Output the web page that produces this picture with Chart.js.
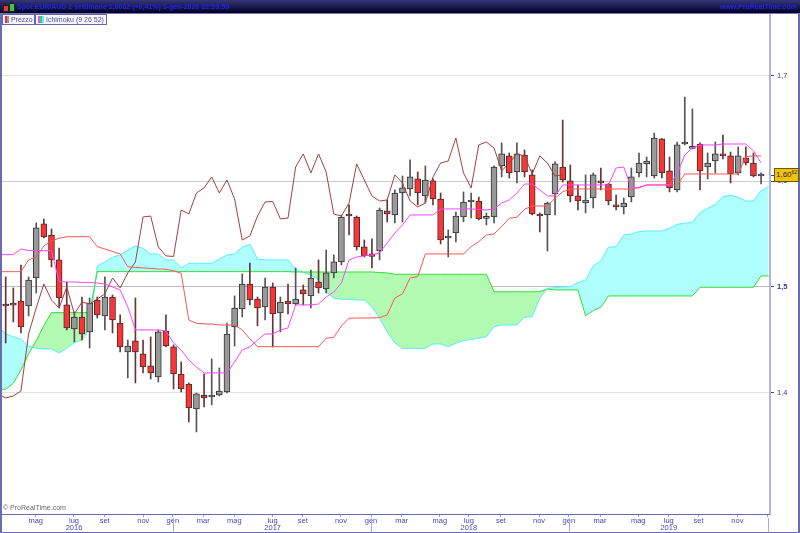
<!DOCTYPE html>
<html><head><meta charset="utf-8">
<script src="https://cdn.jsdelivr.net/npm/chart.js@4.4.1/dist/chart.umd.min.js"></script>
<style>
html,body{margin:0;padding:0;background:#fff;}
#wrap{position:relative;width:800px;height:533px;overflow:hidden;font-family:"Liberation Sans",Arial,sans-serif;}
#c{position:absolute;left:0;top:0;}
#hdr{position:absolute;left:0;top:0;width:800px;height:13px;background:linear-gradient(#36367a,#000022);border-bottom:1px solid #7474bc;}
#htxt{position:absolute;left:17px;top:1px;font-size:7px;font-weight:bold;color:#2424e8;white-space:nowrap;line-height:11px;}
#hurl{position:absolute;right:3px;top:1px;font-size:7px;font-weight:bold;color:#2424e8;white-space:nowrap;line-height:11px;}
.ic{position:absolute;width:4px;border:1px solid #222;}
.icw{position:absolute;width:1px;background:#222;}
.lb{position:absolute;top:14px;height:9px;border:1px solid #6464aa;background:#f6f6fc;font-size:7px;color:#50509a;line-height:9px;white-space:nowrap;overflow:hidden;}
.lb i{display:inline-block;width:2px;height:7px;margin:1px 0 0 0;vertical-align:top;}
#copy{position:absolute;left:3px;top:504px;font-size:7px;color:#666;white-space:nowrap;}
#px{position:absolute;left:774px;top:168px;width:22px;height:12px;background:#f2c400;border:1px solid #6c5600;font-size:8px;color:#1c1c50;line-height:12px;text-align:left;padding-left:1px;white-space:nowrap;}
#px sup{font-size:5px;vertical-align:top;line-height:7px;}
</style></head>
<body>
<div id="wrap">
<canvas id="c" width="800" height="533"></canvas>
<div id="hdr">
  <div class="icw" style="left:5px;top:2px;height:10px;"></div>
  <div class="ic" style="left:3px;top:5px;height:5px;background:#ee3333;"></div>
  <div class="icw" style="left:11px;top:1px;height:11px;"></div>
  <div class="ic" style="left:9px;top:3px;height:7px;background:#33cc33;"></div>
  <span id="htxt">Spot EUR/AUD 2 settimane 1,6062 (+0,41%) 3-gen-2020 22:59:59</span>
  <span id="hurl">www.ProRealTime.com</span>
</div>
<div class="lb" style="left:2px;width:31px;"><i style="background:#ee3333;margin-left:2px"></i><i style="background:#999"></i> Prezzo</div>
<div class="lb" style="left:35px;width:70px;"><i style="background:#ff44ff;margin-left:2px"></i><i style="background:#33dd33"></i><i style="background:#55eeff"></i> Ichimoku (9 26 52)</div>
<div id="copy">© ProRealTime.com</div>
<div id="px">1,60<sup>62</sup></div>
</div>
<script>
// ---- candle data (bi-weekly EUR/AUD), index 0..99 ----
const opens=[1.4839,1.4830,1.4867,1.4820,1.5085,1.5597,1.5492,1.5256,1.4830,1.4602,
1.4716,1.4574,1.4877,1.4725,1.4905,1.4659,1.4384,1.4489,1.4366,1.4252,
1.4148,1.4583,1.4432,1.4176,1.4081,1.3845,1.3977,1.3958,1.3977,1.4006,
1.4621,1.4792,1.5028,1.4886,1.4811,1.5000,1.4754,1.4867,1.4839,1.4972,
1.4915,1.5047,1.4981,1.5133,1.5237,1.5680,1.5663,1.5379,1.5313,1.5341,
1.5720,1.5682,1.5890,1.5928,1.6023,1.5862,1.6004,1.5833,1.5464,1.5511,
1.5663,1.5805,1.5814,1.5649,1.5663,1.6146,1.6241,1.6089,1.6250,1.6061,
1.5691,1.5682,1.5881,1.6136,1.6004,1.5862,1.5795,1.5843,1.6004,1.5975,
1.5767,1.5758,1.5852,1.6080,1.6165,1.6051,1.6402,1.6099,1.5919,1.6354,
1.6312,1.6354,1.6136,1.6193,1.6260,1.6241,1.6080,1.6222,1.6174,1.6051];
const highs=[1.5095,1.4991,1.5208,1.5095,1.5606,1.5644,1.5549,1.5369,1.5047,1.4763,
1.4905,1.4896,1.4905,1.5095,1.4924,1.4735,1.4498,1.4896,1.4498,1.4527,
1.4593,1.4735,1.4451,1.4290,1.4091,1.3996,1.4176,1.4318,1.4233,1.4659,
1.4915,1.5123,1.5227,1.4905,1.5085,1.5038,1.4905,1.5028,1.5180,1.5019,
1.5161,1.5256,1.5350,1.5303,1.5682,1.5777,1.5672,1.5445,1.5455,1.5748,
1.5824,1.5919,1.6051,1.6203,1.6089,1.6146,1.6023,1.5890,1.5540,1.5710,
1.5900,1.5890,1.5852,1.5701,1.6146,1.6364,1.6269,1.6364,1.6297,1.6108,
1.5701,1.5805,1.6184,1.6581,1.6155,1.5966,1.6061,1.6080,1.6127,1.5980,
1.5871,1.5843,1.6127,1.6269,1.6231,1.6458,1.6406,1.6231,1.6373,1.6799,
1.6686,1.6364,1.6269,1.6373,1.6439,1.6278,1.6326,1.6326,1.6269,1.6080];
const lows=[1.4470,1.4669,1.4564,1.4725,1.4943,1.5464,1.5189,1.4801,1.4593,1.4479,
1.4498,1.4422,1.4706,1.4593,1.4564,1.4384,1.4138,1.4091,1.4186,1.4129,
1.4100,1.4432,1.4034,1.4006,1.3722,1.3627,1.3864,1.3883,1.3968,1.3996,
1.4441,1.4716,1.4830,1.4631,1.4687,1.4432,1.4574,1.4744,1.4830,1.4830,
1.4801,1.4943,1.4943,1.5085,1.5208,1.5492,1.5350,1.5284,1.5180,1.5256,
1.5616,1.5606,1.5616,1.5862,1.5777,1.5795,1.5777,1.5407,1.5284,1.5426,
1.5616,1.5653,1.5634,1.5587,1.5606,1.6042,1.6032,1.5985,1.6042,1.5682,
1.5521,1.5341,1.5682,1.5994,1.5805,1.5729,1.5701,1.5748,1.5919,1.5777,
1.5729,1.5691,1.5805,1.6042,1.6042,1.6032,1.6032,1.5900,1.5900,1.6345,
1.6307,1.5919,1.6023,1.6080,1.6212,1.5985,1.6061,1.6155,1.6042,1.5975];
const closes=[1.4820,1.4828,1.4621,1.5066,1.5559,1.5473,1.5256,1.4896,1.4612,1.4716,
1.4555,1.4848,1.4735,1.4905,1.4687,1.4432,1.4441,1.4384,1.4242,1.4186,
1.4574,1.4441,1.4176,1.4034,1.3854,1.3987,1.3949,1.3968,1.4015,1.4555,
1.4801,1.5028,1.4877,1.4801,1.5000,1.4744,1.4858,1.4839,1.4886,1.4934,
1.5085,1.4991,1.5133,1.5237,1.5663,1.5672,1.5379,1.5294,1.5289,1.5729,
1.5691,1.5890,1.5938,1.6042,1.5890,1.6013,1.5833,1.5445,1.5483,1.5672,
1.5805,1.5810,1.5644,1.5653,1.6136,1.6260,1.6080,1.6260,1.6089,1.5691,
1.5672,1.5795,1.6165,1.6013,1.5862,1.5814,1.5824,1.6061,1.5985,1.5814,
1.5758,1.5795,1.6042,1.6174,1.6193,1.6411,1.6080,1.5938,1.6345,1.6373,
1.6316,1.6099,1.6174,1.6260,1.6241,1.6070,1.6241,1.6174,1.6051,1.6062];

// ---- Ichimoku lines ----
// tenkan & kijun: index -1..99
const tenkan=[1.5306,1.5306,1.5306,1.5360,1.5344,1.5344,1.5344,1.5344,1.5050,1.5047,
1.5047,1.5043,1.5043,1.5038,1.5028,1.5000,1.4972,1.4811,1.4593,1.4593,
1.4593,1.4593,1.4583,1.4470,1.4403,1.4309,1.4242,1.4186,1.4186,1.4186,
1.4186,1.4290,1.4403,1.4432,1.4498,1.4555,1.4555,1.4593,1.4612,1.4830,
1.4830,1.4830,1.4839,1.4905,1.4953,1.5038,1.5256,1.5284,1.5294,1.5303,
1.5322,1.5417,1.5511,1.5587,1.5682,1.5682,1.5682,1.5682,1.5739,1.5739,
1.5739,1.5739,1.5739,1.5734,1.5729,1.5739,1.5795,1.5824,1.5890,1.5975,
1.5975,1.5919,1.5862,1.5862,1.5966,1.5966,1.5966,1.5966,1.5966,1.5966,
1.5966,1.6127,1.6136,1.5938,1.5938,1.5966,1.5966,1.5966,1.5966,1.6070,
1.6250,1.6316,1.6345,1.6345,1.6345,1.6354,1.6354,1.6354,1.6354,1.6288,
1.6174];
const kijun=[1.5145,1.5145,1.5145,1.5145,1.5256,1.5284,1.5388,1.5438,1.5461,1.5476,
1.5476,1.5476,1.5476,1.5382,1.5360,1.5336,1.5313,1.5192,1.5185,1.5180,
1.5175,1.5170,1.5168,1.5154,1.5130,1.4687,1.4656,1.4650,1.4650,1.4640,
1.4640,1.4640,1.4593,1.4508,1.4435,1.4435,1.4435,1.4435,1.4435,1.4435,
1.4435,1.4435,1.4435,1.4514,1.4524,1.4631,1.4704,1.4706,1.4706,1.4706,
1.4709,1.4735,1.4896,1.4934,1.5085,1.5098,1.5313,1.5313,1.5313,1.5313,
1.5313,1.5313,1.5382,1.5429,1.5492,1.5502,1.5571,1.5651,1.5660,1.5736,
1.5767,1.5767,1.5767,1.5840,1.5902,1.5928,1.5928,1.5928,1.5928,1.5928,
1.5928,1.5928,1.5928,1.5928,1.5944,1.5966,1.5966,1.5966,1.5966,1.5966,
1.6070,1.6070,1.6070,1.6070,1.6070,1.6070,1.6070,1.6070,1.6234,1.6241,
1.6241];
// chikou (lagging close): index -1..73
const chikou=[1.3987,1.3949,1.3968,1.4015,1.4555,1.4801,1.5028,1.4877,1.4801,1.5000,
1.4744,1.4858,1.4839,1.4886,1.4934,1.5085,1.4991,1.5133,1.5237,1.5663,
1.5672,1.5379,1.5294,1.5289,1.5729,1.5691,1.5890,1.5938,1.6042,1.5890,
1.6013,1.5833,1.5445,1.5483,1.5672,1.5805,1.5810,1.5644,1.5653,1.6136,
1.6260,1.6080,1.6260,1.6089,1.5691,1.5672,1.5795,1.6165,1.6013,1.5862,
1.5814,1.5824,1.6061,1.5985,1.5814,1.5758,1.5795,1.6042,1.6174,1.6193,
1.6411,1.6080,1.5938,1.6345,1.6373,1.6316,1.6099,1.6174,1.6260,1.6241,
1.6070,1.6241,1.6174,1.6051,1.6062];
// cloud borders: index -1..100
const spanCyan=[1.4631,1.4555,1.4529,1.4505,1.4441,1.4419,1.4413,1.4413,1.4375,1.4419,
1.4473,1.4498,1.4609,1.5199,1.5237,1.5281,1.5303,1.5350,1.5388,1.5366,
1.5313,1.5313,1.5256,1.5256,1.5180,1.5224,1.5224,1.5224,1.5224,1.5265,
1.5303,1.5313,1.5379,1.5404,1.5265,1.5256,1.5256,1.5256,1.5256,1.5170,
1.5137,1.5114,1.5066,1.4955,1.4893,1.4884,1.4884,1.4877,1.4877,1.4811,
1.4706,1.4574,1.4470,1.4419,1.4419,1.4419,1.4419,1.4460,1.4460,1.4435,
1.4467,1.4491,1.4505,1.4514,1.4529,1.4624,1.4640,1.4640,1.4640,1.4713,
1.4719,1.4893,1.4988,1.4993,1.5000,1.5003,1.5041,1.5066,1.5199,1.5249,
1.5376,1.5382,1.5492,1.5502,1.5524,1.5530,1.5530,1.5530,1.5556,1.5594,
1.5603,1.5613,1.5704,1.5745,1.5783,1.5855,1.5871,1.5849,1.5814,1.5814,
1.5912,1.5950];
const spanGreen=[1.4031,1.4031,1.4088,1.4214,1.4366,1.4492,1.4634,1.4757,1.4757,1.4757,
1.4757,1.4757,1.4757,1.5145,1.5145,1.5145,1.5145,1.5145,1.5145,1.5145,
1.5145,1.5145,1.5145,1.5145,1.5145,1.5145,1.5145,1.5145,1.5145,1.5145,
1.5145,1.5145,1.5145,1.5145,1.5145,1.5145,1.5145,1.5145,1.5145,1.5142,
1.5142,1.5142,1.5142,1.5142,1.5142,1.5142,1.5142,1.5142,1.5142,1.5142,
1.5137,1.5133,1.5120,1.5120,1.5120,1.5120,1.5120,1.5120,1.5120,1.5120,
1.5120,1.5120,1.5120,1.5120,1.5120,1.4955,1.4955,1.4955,1.4955,1.4955,
1.4955,1.4955,1.4981,1.4972,1.4972,1.4972,1.4972,1.4728,1.4776,1.4808,
1.4915,1.4915,1.4915,1.4915,1.4915,1.4915,1.4915,1.4915,1.4915,1.4915,
1.4915,1.4915,1.4997,1.4997,1.4997,1.4997,1.4997,1.4997,1.4997,1.4997,
1.5104,1.5104];

// ---- axis labels ----
const tickPos=[3.93,8.95,12.97,18.03,21.9,25.9,29.96,34.99,38.93,43.94,47.88,51.9,56.9,60.7,64.9,69.9,73.8,77.9,82.9,86.9,90.8,95.9,99.9];
const tickMonths=['mag','lug','set','nov','gen','mar','mag','lug','set','nov','gen','mar','mag','lug','set','nov','gen','mar','mag','lug','set','nov',''];
const tickYears=['','2016','','','','','','2017','','','','','','2018','','','','','','2019','','',''];
const yearBreaks=[21.9,47.88,73.8,99.9];
const yTicks=[1.4,1.5,1.6,1.7];
const lastPrice=1.6062;

const pts=(arr,start)=>arr.map((v,k)=>({x:start+k,y:v}));
const isUp=i=>closes[i]>=opens[i];

const deco={
  id:'deco',
  afterDraw(chart){
    const c=chart.ctx, xs=chart.scales.x, ys=chart.scales.y;
    c.save();
    c.fillStyle='#6a6ab4';
    c.fillRect(0,14,2,519);
    c.fillRect(798,14,2,519);
    c.fillRect(0,532,800,1);
    c.fillRect(0,514,770,1);
    c.fillStyle='#a8a8d8';
    yearBreaks.forEach(v=>{const px=Math.round(xs.getPixelForValue(v));c.fillRect(px,518,1,15);});
    const py=ys.getPixelForValue(lastPrice);
    c.fillStyle='#3a3a9a';c.fillRect(771,Math.round(py),4,1);
    c.restore();
    document.getElementById('px').style.top=(Math.round(py)-7)+'px';
  }
};

new Chart(document.getElementById('c'),{
  type:'bar',
  data:{datasets:[
    {type:'line',label:'Senkou A',data:pts(spanCyan,-1),borderColor:'#55eeff',borderWidth:1,pointRadius:0,tension:0,
     fill:{target:1,above:'#b0ffff',below:'#b2f9b2'},order:20},
    {type:'line',label:'Senkou B',data:pts(spanGreen,-1),borderColor:'#33dd33',borderWidth:1,pointRadius:0,tension:0,fill:false,order:19},
    {type:'bar',label:'wick',data:closes.map((_,i)=>({x:i,y:[lows[i],highs[i]]})),
     backgroundColor:ctx=>isUp(ctx.dataIndex)?'#555555':'#6a3434',barThickness:1,grouped:false,borderWidth:0,order:10},
    {type:'bar',label:'Prezzo',data:closes.map((_,i)=>({x:i,y:[opens[i],closes[i]]})),
     backgroundColor:ctx=>isUp(ctx.dataIndex)?'#999999':'#ff3333',borderColor:'#333333',borderWidth:1,borderSkipped:false,
     barThickness:6,minBarLength:2,grouped:false,order:9},
    {type:'line',label:'Chikou',data:pts(chikou,-1),borderColor:'#a3403c',borderWidth:1,pointRadius:0,tension:0,fill:false,order:3},
    {type:'line',label:'Kijun',data:pts(kijun,-1),borderColor:'#ff5555',borderWidth:1,pointRadius:0,tension:0,fill:false,order:2},
    {type:'line',label:'Tenkan',data:pts(tenkan,-1),borderColor:'#ff44ff',borderWidth:1,pointRadius:0,tension:0,fill:false,order:1}
  ]},
  options:{
    responsive:false,animation:false,devicePixelRatio:1,
    layout:{padding:{top:14,left:1,right:0,bottom:0}},
    plugins:{legend:{display:false},tooltip:{enabled:false}},
    scales:{
      x:{type:'linear',min:-0.616,max:100.17,offset:false,
        afterBuildTicks:s=>{s.ticks=tickPos.map(v=>({value:v}));},
        afterFit:s=>{s.height=19;},
        grid:{display:true,drawOnChartArea:false,drawTicks:true,tickLength:3,tickColor:'#9a9acc',offset:false},
        border:{display:true,color:'#6a6ab4',width:1},
        ticks:{autoSkip:false,maxRotation:0,minRotation:0,padding:1,color:'#4848b0',
          font:{family:'Liberation Sans',size:7.5,lineHeight:0.9},
          callback:(v,i)=>tickYears[i]?[tickMonths[i],tickYears[i]]:tickMonths[i]}
      },
      y:{position:'right',min:1.2850,max:1.7585,
        afterBuildTicks:s=>{s.ticks=yTicks.map(v=>({value:v}));},
        afterFit:s=>{s.width=30;},
        grid:{color:ctx=>{const v=ctx.tick?ctx.tick.value:0;return Math.abs(v-1.5)<1e-6?'#bdbdbd':(Math.abs(v-1.6)<1e-6?'#cccccc':'#e2e2e2');},
          lineWidth:1,drawTicks:true,tickLength:4,tickColor:'#3a3a9a'},
        border:{display:true,color:'#b4b4dc',width:2},
        ticks:{padding:3,color:'#34348a',
          font:ctx=>({family:'Liberation Sans',size:7.5,weight:(ctx.tick&&Math.abs(ctx.tick.value-1.5)<1e-6)?'bold':'normal'}),
          callback:v=>v.toFixed(1).replace('.',',')}
      }
    }
  },
  plugins:[deco]
});
</script>
</body></html>
